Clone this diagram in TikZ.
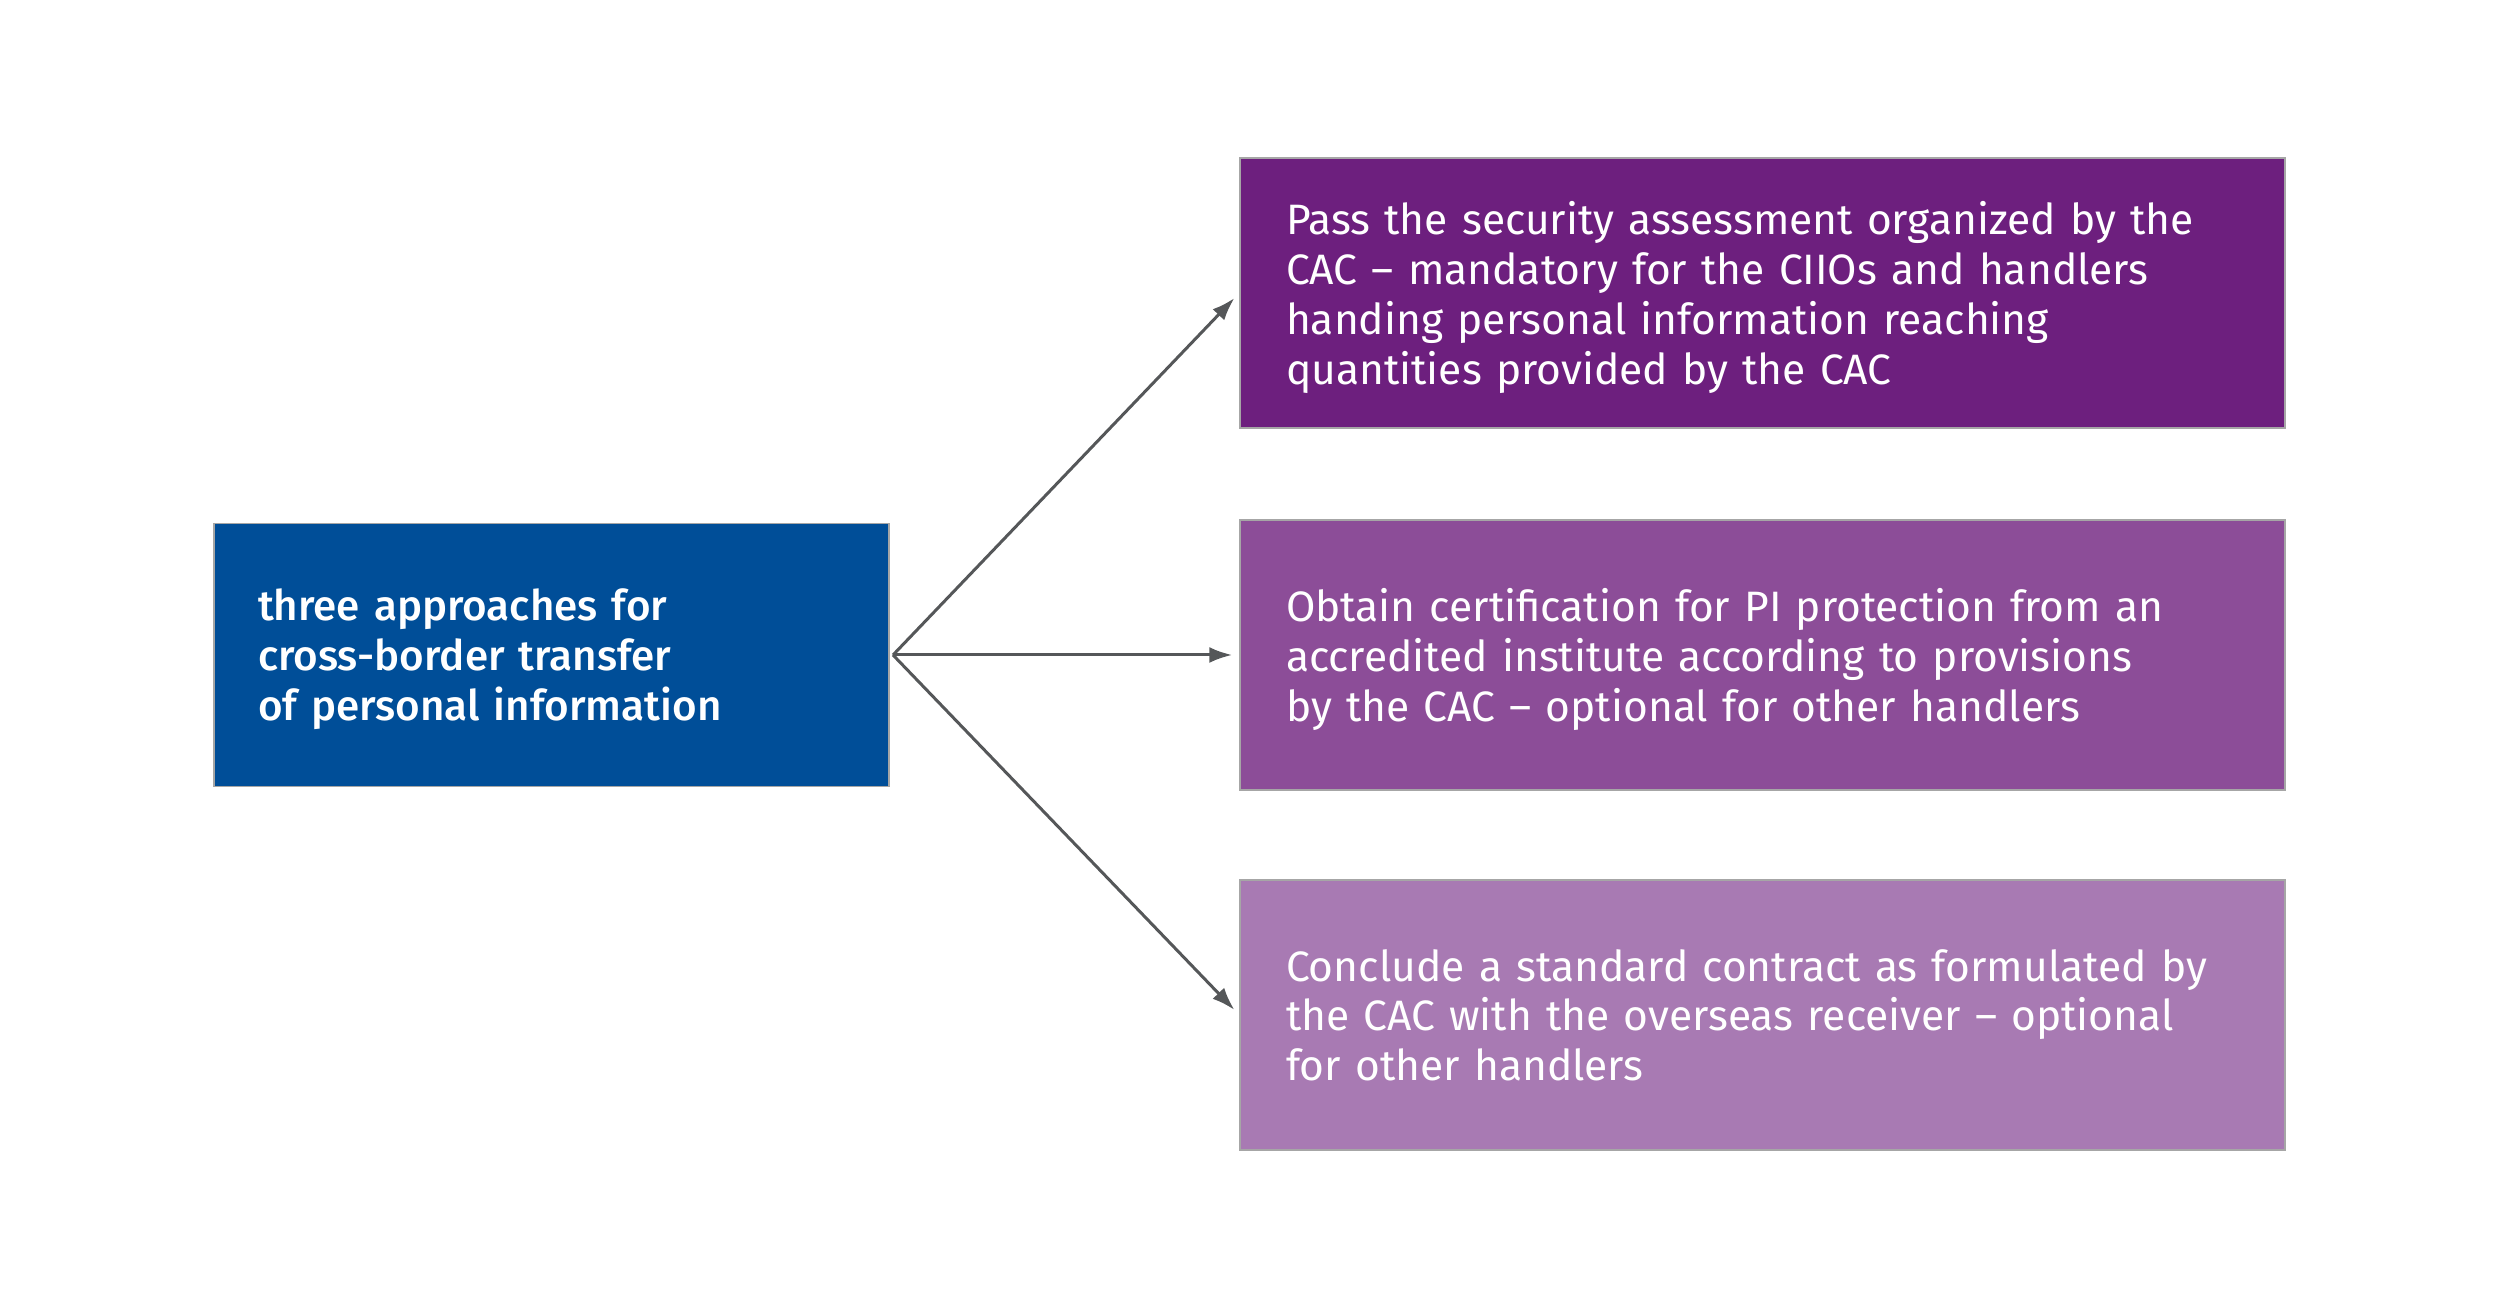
\documentclass[tikz,border=0pt]{standalone}
\usepackage{fontspec}
\setmainfont{Fira Sans}
\newfontfamily\topicfont{Fira Sans Medium}
\usetikzlibrary{arrows.meta}
\definecolor{cacblue}{HTML}{004E98}
\definecolor{purpleA}{HTML}{6D1F7E}
\definecolor{purpleB}{HTML}{8C4D98}
\definecolor{purpleC}{HTML}{A87AB3}
\definecolor{arrowgray}{HTML}{555759}
\tikzset{
  nodepth/.style={execute at end node={\par\kern-\prevdepth}},
  topicbox/.style={fill=cacblue, draw=gray!70, line width=0.4pt, text=white,
    minimum width=6.75cm, minimum height=2.63cm, text width=5.87cm, nodepth,
    inner xsep=0.44cm, align=left, font=\topicfont\fontsize{12}{14.2}\selectfont},
  optionbox/.style={draw=gray!70, line width=0.4pt, text=white,
    minimum width=10.45cm, minimum height=2.70cm, text width=9.53cm, nodepth,
    inner xsep=0.46cm, align=left, font=\fontsize{12.1}{14.2}\selectfont},
  link/.style={arrowgray, line width=0.85pt, ->, shorten >=2pt}
}
\begin{document}
\begin{tikzpicture}[>={Latex[length=2.3mm,width=1.6mm]}]
\useasboundingbox (0,0) rectangle (25,13.08);
\node (topic) at (5.515,6.53) [topicbox] {three approaches for\\cross-border transfer\\of personal information};
\node (assess) at (17.625,10.15) [optionbox, fill=purpleA] {Pass the security assessment organized by the\\CAC -- mandatory for the CIIOs and handlers\\handing personal information reaching\\quantities provided by the CAC};
\node (certify) at (17.625,6.53) [optionbox, fill=purpleB] {Obtain certification for PI protection from an\\accredited institute according to provisions\\by the CAC -- optional for other handlers};
\node (contract) at (17.625,2.93) [optionbox, fill=purpleC] {Conclude a standard contract as formulated by\\the CAC with the overseas receiver -- optional\\for other handlers};
\coordinate (fork) at (8.93,6.53);
\draw[link] (fork)--(assess.west);
\draw[link] (fork)--(certify.west);
\draw[link] (fork)--(contract.west);
\end{tikzpicture}
\end{document}
